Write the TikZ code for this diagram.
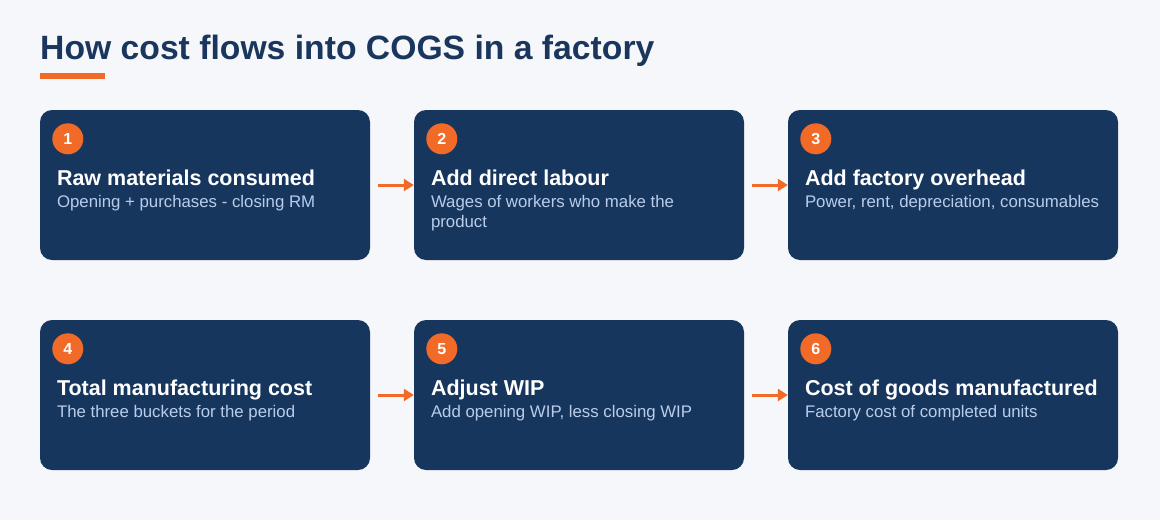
\documentclass[tikz,border=0pt]{standalone}
\usepackage{fontspec}
\setmainfont{Liberation Sans}
\usetikzlibrary{calc,arrows.meta}

\definecolor{pagebg}{HTML}{F5F7FA}
\definecolor{navy}{HTML}{17365E}
\definecolor{titlenavy}{HTML}{1B365D}
\definecolor{accent}{HTML}{F26A28}
\definecolor{subblue}{HTML}{B9CDEA}

\tikzset{
	card/.style={fill=navy, rounded corners=12pt, minimum width=330pt, minimum height=150pt, inner sep=0pt},
	badge/.style={circle, fill=accent, minimum size=31pt, inner sep=0pt, text=white, font=\bfseries\fontsize{16}{16}\selectfont},
	head/.style={anchor=base west, inner sep=0pt, text=white, font=\bfseries\fontsize{21.5}{24}\selectfont},
	sub/.style={anchor=base west, inner sep=0pt, text=subblue, align=left, font=\fontsize{16.8}{20}\selectfont},
	flow/.style={draw=accent, line width=3pt, -{Triangle[length=10pt,width=12pt]}, shorten <=8pt}
}

\begin{document}
\begin{tikzpicture}[x=1pt, y=-1pt]
			\fill[pagebg] (0,0) rectangle (1160,520);
			\useasboundingbox (0,0) rectangle (1160,520);

			% title
			\node[anchor=base west, inner sep=0pt, text=titlenavy, font=\bfseries\fontsize{33.7}{36}\selectfont] (title) at (40,59) {How cost flows into COGS in a factory};
			\fill[accent] (40,73) rectangle (105,79);

			% first row
			\node[card] (card1) at (205,185) {};
			\node[card] (card2) at (579,185) {};
			\node[card] (card3) at (953,185) {};

			\node[badge] (badge1) at ($(card1.north west)+(28,29)$) {1};
			\node[badge] (badge2) at ($(card2.north west)+(28,29)$) {2};
			\node[badge] (badge3) at ($(card3.north west)+(28,29)$) {3};

			\node[head] (head1) at ($(card1.north west)+(17,76)$) {Raw materials consumed};
			\node[sub] (sub1) at ($(card1.north west)+(17,98)$) {Opening + purchases - closing RM};
			\node[head] (head2) at ($(card2.north west)+(17,76)$) {Add direct labour};
			% two lines: base sits on the last line
			\node[sub] (sub2) at ($(card2.north west)+(17,118)$) {Wages of workers who make the\\product};
			\node[head] (head3) at ($(card3.north west)+(17,76)$) {Add factory overhead};
			\node[sub] (sub3) at ($(card3.north west)+(17,98)$) {Power, rent, depreciation, consumables};

			% second row
			\node[card] (card4) at (205,395) {};
			\node[card] (card5) at (579,395) {};
			\node[card] (card6) at (953,395) {};

			\node[badge] (badge4) at ($(card4.north west)+(28,29)$) {4};
			\node[badge] (badge5) at ($(card5.north west)+(28,29)$) {5};
			\node[badge] (badge6) at ($(card6.north west)+(28,29)$) {6};

			\node[head] (head4) at ($(card4.north west)+(17,76)$) {Total manufacturing cost};
			\node[sub] (sub4) at ($(card4.north west)+(17,98)$) {The three buckets for the period};
			\node[head] (head5) at ($(card5.north west)+(17,76)$) {Adjust WIP};
			\node[sub] (sub5) at ($(card5.north west)+(17,98)$) {Add opening WIP, less closing WIP};
			\node[head] (head6) at ($(card6.north west)+(17,76)$) {Cost of goods manufactured};
			\node[sub] (sub6) at ($(card6.north west)+(17,98)$) {Factory cost of completed units};

			% arrows
			\draw[flow] (card1.east) -- (card2.west);
			\draw[flow] (card2.east) -- (card3.west);
			\draw[flow] (card4.east) -- (card5.west);
			\draw[flow] (card5.east) -- (card6.west);
\end{tikzpicture}
\end{document}
